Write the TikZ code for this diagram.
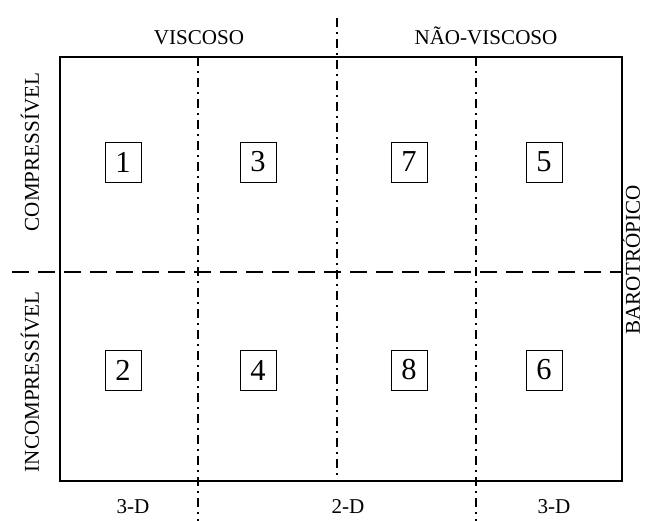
\documentclass[tikz,border=0pt]{standalone}
\usepackage{fontspec}
\setmainfont{Liberation Serif}
\tikzset{
  cellbox/.style   = {draw, line width=0.8pt, minimum width=10.8mm, minimum height=12mm,
                      inner sep=0pt, font=\fontsize{26}{26}\selectfont},
  sidelabel/.style = {inner sep=0pt, text height=0.66em, text depth=0pt,
                      font=\fontsize{18}{20}\selectfont},
  frame/.style     = {draw, line width=1.2pt},
  regionline/.style= {line width=1.7pt, dash pattern=on 2.7mm off 1.5mm on 0.6mm off 1.5mm},
  phaseline/.style = {line width=1.7pt, dash pattern=on 5.1mm off 2.7mm}
}

\begin{document}
\begin{tikzpicture}[x=0.3mm, y=-0.3mm]
\useasboundingbox (0,0) rectangle (645,521);
% outer frame
\coordinate (fnw) at (60,57);
\coordinate (fse) at (622,481);
\draw[frame] (fnw) rectangle (fse);
% dividing lines
\coordinate (ltop) at (198,57);   \coordinate (lbot) at (198,521);
\coordinate (mtop) at (337,18);   \coordinate (mbot) at (337,481);
\coordinate (rtop) at (476,57);   \coordinate (rbot) at (476,521);
\coordinate (hleft) at (12,272);  \coordinate (hright) at (622,272);
\draw[regionline] (ltop) -- (lbot);
\draw[regionline] (mtop) -- (mbot);
\draw[regionline] (rtop) -- (rbot);
\draw[phaseline] (hleft) -- (hright);
% numbered cells
\node[cellbox] (c1) at (123,162) {1};
\node[cellbox] (c3) at (258,162) {3};
\node[cellbox] (c7) at (409,162) {7};
\node[cellbox] (c5) at (544,162) {5};
\node[cellbox] (c2) at (123,370) {2};
\node[cellbox] (c4) at (258,370) {4};
\node[cellbox] (c8) at (409,370) {8};
\node[cellbox] (c6) at (544,370) {6};
% labels
\node[sidelabel] (visc) at (199,41) {VISCOSO};
\node[sidelabel] (nvisc) at (486,41) {NÃO-VISCOSO};
\node[sidelabel, rotate=90] (comp) at (35,152) {COMPRESSÍVEL};
\node[sidelabel, rotate=90] (incomp) at (35,382) {INCOMPRESSÍVEL};
\node[sidelabel, rotate=90] (baro) at (636,260) {BAROTRÓPICO};
\node[sidelabel] (tridl) at (133,510) {3-D};
\node[sidelabel] (bid) at (348,510) {2-D};
\node[sidelabel] (tridr) at (554,510) {3-D};
\end{tikzpicture}
\end{document}
